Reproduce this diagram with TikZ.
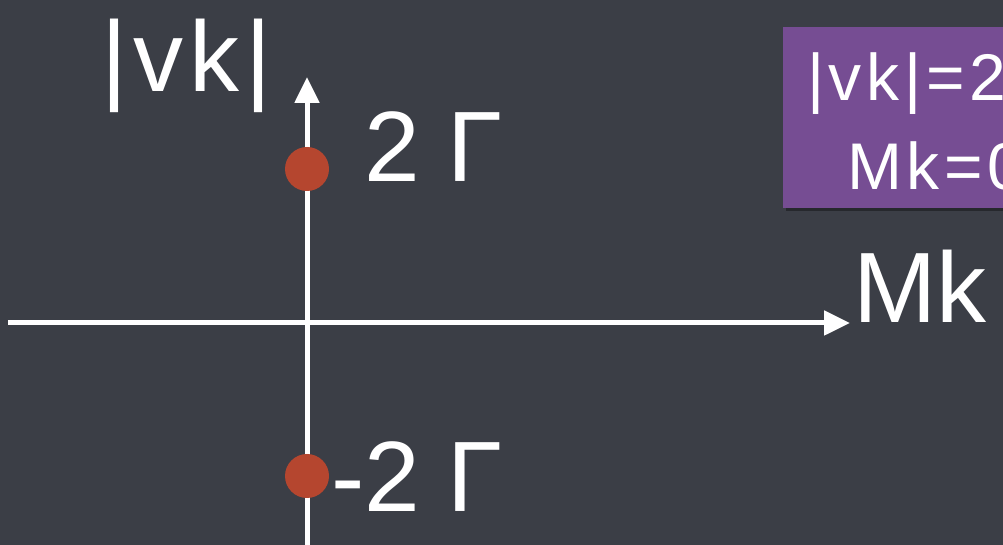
\documentclass[tikz,border=0pt]{standalone}
\usepackage{fontspec}
\setmainfont{Liberation Sans}
\newfontfamily\wideA[LetterSpace=6]{Liberation Sans}
\newfontfamily\wideB[LetterSpace=7]{Liberation Sans}
\usetikzlibrary{arrows.meta}
\definecolor{slate}{HTML}{3B3E46}
\definecolor{boxpurple}{HTML}{764D93}
\definecolor{dotred}{HTML}{B5462F}
\tikzset{
  axis/.style={white, line width=5pt, -{Triangle[length=26pt,width=24pt]}},
  bigtxt/.style={white, anchor=base west, inner sep=0pt, font=\fontsize{100}{100}\selectfont},
  widetxt/.style={white, anchor=base west, inner sep=0pt, font=\wideA\fontsize{100}{100}\selectfont},
  boxtxt/.style={white, anchor=base west, inner sep=0pt, font=\wideB\fontsize{66}{66}\selectfont},
  dot/.style={circle, fill=dotred, minimum size=44pt, inner sep=0pt}
}
\begin{document}
\begin{tikzpicture}[x=1pt,y=1pt]
\useasboundingbox (0,0) rectangle (1003,545);
\fill[slate] (0,0) rectangle (1003,545);
\begin{scope}
\clip (0,0) rectangle (1003,545);
% box with shadow
\fill[black, opacity=0.35] (786,334) rectangle (1010,516);
\fill[boxpurple] (783,337) rectangle (1010,518);
\node[boxtxt] (boxa) at (807,444) {|vk|=2};
\node[boxtxt] (boxb) at (847,355) {Mk=0};
\end{scope}
% axes
\coordinate (xs) at (8,222);
\coordinate (xe) at (850,222);
\coordinate (ys) at (307,0);
\coordinate (ye) at (307,468);
\draw[axis] (xs) -- (xe);
\draw[axis] (ys) -- (ye);
% dots
\node[dot] (d1) at (307,376) {};
\node[dot] (d2) at (307,69) {};
% labels
\node[widetxt] (vk) at (101,453) {|vk|};
\node[bigtxt] (mk) at (853,222) {Mk};
\node[bigtxt] (p2) at (364,363) {2 Γ};
\node[bigtxt] (m2) at (331,33) {-2 Γ};
\end{tikzpicture}
\end{document}
